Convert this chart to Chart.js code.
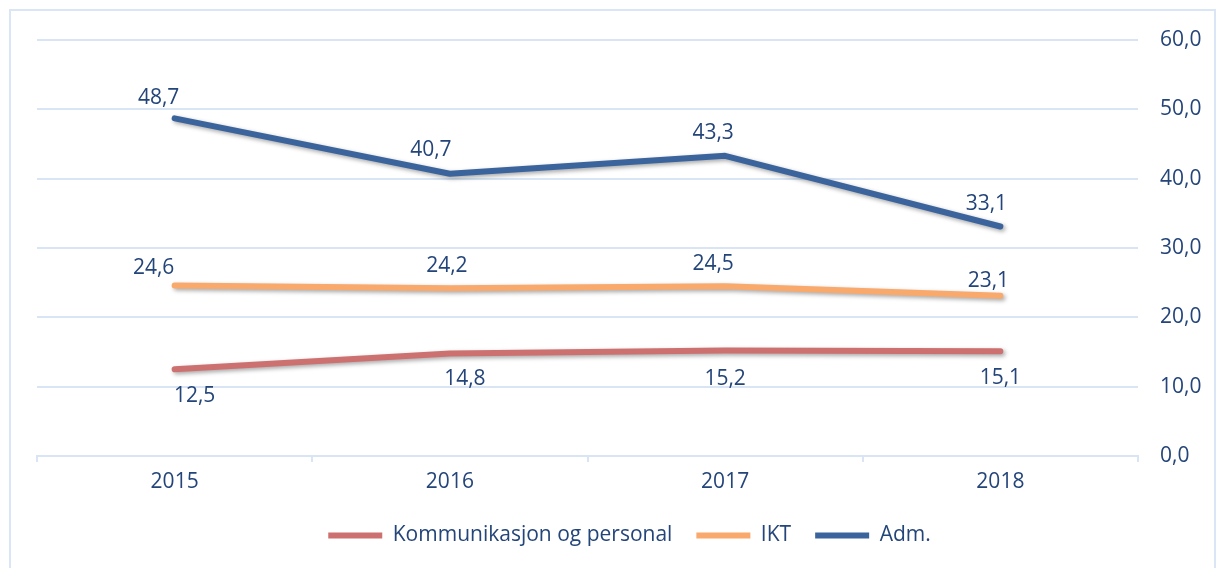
<!DOCTYPE html>
<html>
<head>
<meta charset="utf-8">
<script src="https://cdn.jsdelivr.net/npm/chart.js@4.4.0/dist/chart.umd.min.js"></script>
<style>
    html, body { margin: 0; padding: 0; background: #fff; overflow: hidden; }
    #frame {
        position: absolute; left: 9px; top: 9px;
        width: 1207px; height: 575px;
        border: 2px solid #dae6f6;
        box-sizing: border-box;
    }
    #wrap { position: absolute; left: 11px; top: 11px; width: 1211px; height: 571px; }
</style>
</head>
<body>
<div id="frame"></div>
<div id="wrap"><canvas id="myChart"></canvas></div>
<script>
    "use strict";

    // data
    var years = ['2015', '2016', '2017', '2018'];
    var kommunikasjon = [12.5, 14.8, 15.2, 15.1];
    var ikt = [24.6, 24.2, 24.5, 23.1];
    var adm = [48.7, 40.7, 43.3, 33.1];
    var yMin = 0, yMax = 60, yStep = 10;

    var textColor = '#24457a';
    var gridColor = '#d9e5f5';
    var fontFamily = '"Open Sans", "Noto Sans", sans-serif';
    var fontSize = 21;

    function fmt(v) {
        return Number(v).toFixed(1).replace('.', ',');
    }

    // soft shadow under the lines
    var shadowPlugin = {
        id: 'lineShadow',
        beforeDatasetsDraw: function (chart) {
            var c = chart.ctx;
            c.save();
            c.shadowColor = 'rgba(0,0,0,0.35)';
            c.shadowBlur = 4;
            c.shadowOffsetX = 2;
            c.shadowOffsetY = 2;
        },
        afterDatasetsDraw: function (chart) {
            chart.ctx.restore();
        }
    };

    // value labels next to each point
    var labelPlugin = {
        id: 'valueLabels',
        afterDatasetsDraw: function (chart) {
            var c = chart.ctx;
            c.save();
            c.font = fontSize + 'px ' + fontFamily;
            c.fillStyle = textColor;
            c.textAlign = 'center';
            c.textBaseline = 'middle';
            chart.data.datasets.forEach(function (ds, i) {
                var meta = chart.getDatasetMeta(i);
                meta.data.forEach(function (pt, j) {
                    var off = ds.labelOffset[j];
                    c.fillText(fmt(ds.data[j]), pt.x + off[0], pt.y + off[1]);
                });
            });
            c.restore();
        }
    };

    var ctx = document.getElementById('myChart').getContext('2d');

    var chart = new Chart(ctx, {
        type: 'line',
        data: {
            labels: years,
            datasets: [
                {
                    label: 'Kommunikasjon og personal',
                    data: kommunikasjon,
                    borderColor: '#cd7170',
                    backgroundColor: '#cd7170',
                    labelOffset: [[20, 27], [15, 26], [0, 28], [0, 27]]
                },
                {
                    label: 'IKT',
                    data: ikt,
                    borderColor: '#f9a96b',
                    backgroundColor: '#f9a96b',
                    labelOffset: [[-21, -17], [-3, -22], [-12, -22], [-12, -15]]
                },
                {
                    label: 'Adm.',
                    data: adm,
                    borderColor: '#3b649c',
                    backgroundColor: '#3b649c',
                    labelOffset: [[-16, -20], [-19, -24], [-12, -23], [-14, -22]]
                }
            ]
        },
        options: {
            responsive: true,
            maintainAspectRatio: false,
            animation: false,
            elements: {
                line: { borderWidth: 6, tension: 0, borderCapStyle: 'round', borderJoinStyle: 'round' },
                point: { radius: 0, hoverRadius: 0 }
            },
            layout: {
                padding: { top: 29, left: 26, right: 0, bottom: 26 }
            },
            scales: {
                x: {
                    offset: true,
                    grid: {
                        offset: true,
                        drawOnChartArea: false,
                        color: gridColor,
                        lineWidth: 2,
                        tickLength: 6
                    },
                    border: { display: true, color: gridColor, width: 2 },
                    ticks: {
                        color: textColor,
                        padding: 7,
                        font: { family: fontFamily, size: fontSize }
                    },
                    afterFit: function (scale) {
                        scale.height = 45;
                        scale.paddingLeft = 0;
                        scale.paddingRight = 0;
                    }
                },
                y: {
                    position: 'right',
                    min: yMin,
                    max: yMax,
                    grid: { color: gridColor, lineWidth: 2, drawTicks: false },
                    border: { display: false },
                    ticks: {
                        stepSize: yStep,
                        padding: 22,
                        color: textColor,
                        font: { family: fontFamily, size: fontSize },
                        callback: function (v) { return fmt(v); }
                    },
                    afterFit: function (scale) {
                        scale.width = 84;
                        scale.paddingTop = 0;
                        scale.paddingBottom = 0;
                    }
                }
            },
            plugins: {
                tooltip: { enabled: false },
                legend: {
                    position: 'bottom',
                    labels: {
                        color: textColor,
                        font: { family: fontFamily, size: fontSize },
                        boxWidth: 54,
                        boxHeight: 6,
                        padding: 24,
                        useBorderRadius: true,
                        borderRadius: 3,
                        generateLabels: function (chart) {
                            return chart.data.datasets.map(function (ds, i) {
                                return {
                                    text: ds.label,
                                    fillStyle: ds.borderColor,
                                    strokeStyle: ds.borderColor,
                                    lineWidth: 0,
                                    fontColor: textColor,
                                    datasetIndex: i
                                };
                            });
                        }
                    }
                }
            }
        },
        plugins: [shadowPlugin, labelPlugin]
    });
</script>
</body>
</html>
